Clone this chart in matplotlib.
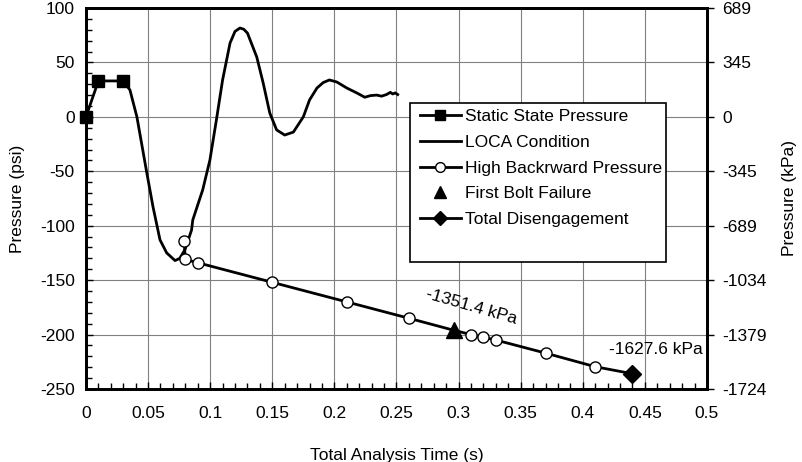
import numpy as np
import matplotlib
matplotlib.use('Agg')
import matplotlib.pyplot as plt
from matplotlib.lines import Line2D
from matplotlib.patches import Rectangle
from matplotlib.ticker import MultipleLocator

plt.rcParams['font.family'] = ['Liberation Sans', 'DejaVu Sans']
plt.rcParams['font.size'] = 12.5
plt.rcParams['axes.unicode_minus'] = False

# static state pressure (psi)
static_t = [0.0, 0.01, 0.03]
static_p = [0.0, 33.0, 33.0]

# LOCA condition trace (psi)
loca_t = [0.030, 0.0354, 0.041, 0.049, 0.054, 0.0596, 0.065, 0.0717, 0.0755, 0.0797,
          0.085, 0.086, 0.094, 0.0998, 0.105, 0.110, 0.116, 0.120, 0.124, 0.127,
          0.130, 0.1375, 0.1427, 0.148, 0.1535, 0.160, 0.167, 0.175, 0.180, 0.186,
          0.191, 0.196, 0.202, 0.210, 0.218, 0.2245, 0.229, 0.234, 0.238, 0.242,
          0.245, 0.247, 0.249, 0.251]
loca_p = [33.0, 24.7, 0.0, -51.6, -82.8, -113.0, -125.0, -132.0, -130.0, -122.0,
          -104.0, -94.7, -67.0, -39.6, -2.9, 33.9, 67.8, 78.5, 81.6, 80.5,
          77.0, 55.0, 31.0, 3.5, -12.0, -16.7, -14.0, 0.0, 15.5, 26.5,
          31.5, 33.9, 32.0, 26.5, 22.0, 18.0, 19.5, 20.0, 19.0, 20.5,
          22.5, 21.0, 22.0, 20.5]

# high backward pressure (psi)
hbp_t = [0.079, 0.080, 0.09, 0.15, 0.21, 0.26, 0.31, 0.32, 0.33, 0.37, 0.41]
hbp_p = [-114.0, -131.0, -134.0, -152.0, -170.0, -185.0, -200.0, -202.5, -205.0, -217.0, -229.5]

# first bolt failure / total disengagement
bolt_t, bolt_p = 0.296, -196.0
dis_t, dis_p = 0.44, -236.0

psi_ticks = [100, 50, 0, -50, -100, -150, -200, -250]
kpa_labels = [str(int(round(v * 6.894757))) for v in psi_ticks]

fig = plt.figure(figsize=(8.02, 4.62), dpi=100)
ax = fig.add_axes([0.1072, 0.158, 0.7743, 0.8247])

ax.grid(True, which='major', color='#808080', lw=0.8)
ax.set_axisbelow(True)

line_t = hbp_t[:6] + [bolt_t] + hbp_t[6:] + [dis_t]
line_p = hbp_p[:6] + [bolt_p] + hbp_p[6:] + [dis_p]
ax.plot(line_t, line_p, color='black', lw=2, zorder=3)
ax.plot(hbp_t, hbp_p, 'o', color='black', mfc='white', ms=8, mew=1.0, zorder=4)
ax.plot(loca_t, loca_p, color='black', lw=2, zorder=3)
ax.plot(static_t, static_p, '-s', color='black', lw=2, ms=8, zorder=4, clip_on=False)
ax.plot([bolt_t], [bolt_p], '^', color='black', ms=12, zorder=5)
ax.plot([dis_t], [dis_p], 'D', color='black', ms=9, zorder=5)

ax.set_xlim(0, 0.5)
ax.set_ylim(-250, 100)
ax.xaxis.set_minor_locator(MultipleLocator(0.01))
ax.yaxis.set_major_locator(MultipleLocator(50))
ax.yaxis.set_minor_locator(MultipleLocator(10))
ax.set_xticks(np.arange(0, 0.501, 0.05))
ax.set_xticklabels(['0', '0.05', '0.1', '0.15', '0.2', '0.25', '0.3', '0.35', '0.4', '0.45', '0.5'])
ax.tick_params(axis='both', which='major', direction='in', length=5, width=1, pad=8)
ax.tick_params(axis='both', which='minor', direction='in', length=4, width=1)
ax.tick_params(axis='x', pad=12)
for s in ax.spines.values():
    s.set_linewidth(2)

ax.set_xlabel('Total Analysis Time (s)', labelpad=20)
ax.set_ylabel('Pressure (psi)', labelpad=11)

ax2 = ax.twinx()
ax2.set_ylim(-250, 100)
ax2.set_yticks(psi_ticks)
ax2.set_yticklabels(kpa_labels)
ax2.tick_params(axis='y', direction='out', length=5, width=1, pad=6)
ax2.set_ylabel('Pressure (kPa)', labelpad=11)
for s in ax2.spines.values():
    s.set_linewidth(2)

ax.text(0.3105, -193, '-1351.4 kPa', rotation=-16, ha='center', va='bottom', zorder=6)
ax.text(0.459, -214, '-1627.6 kPa', ha='center', va='center', zorder=6)

# legend box
ax.add_patch(Rectangle((0.522, 0.333), 0.4125, 0.418, transform=ax.transAxes,
                       facecolor='white', edgecolor='black', lw=1.2, zorder=6))
handles = [
    Line2D([], [], color='black', lw=2, marker='s', ms=7),
    Line2D([], [], color='black', lw=2),
    Line2D([], [], color='black', lw=2, marker='o', mfc='white', ms=7),
    Line2D([], [], color='none', marker='^', mfc='black', mec='black', ms=9),
    Line2D([], [], color='black', lw=2, marker='D', ms=7),
]
labels = ['Static State Pressure', 'LOCA Condition', 'High Backrward Pressure',
          'First Bolt Failure', 'Total Disengagement']
leg = ax.legend(handles, labels, loc='upper left', bbox_to_anchor=(0.512, 0.775),
                frameon=False, handlelength=2.4, handletextpad=0.2,
                labelspacing=0.6, borderpad=0.4)
leg.set_zorder(7)

fig.savefig('out.png', dpi=100)
